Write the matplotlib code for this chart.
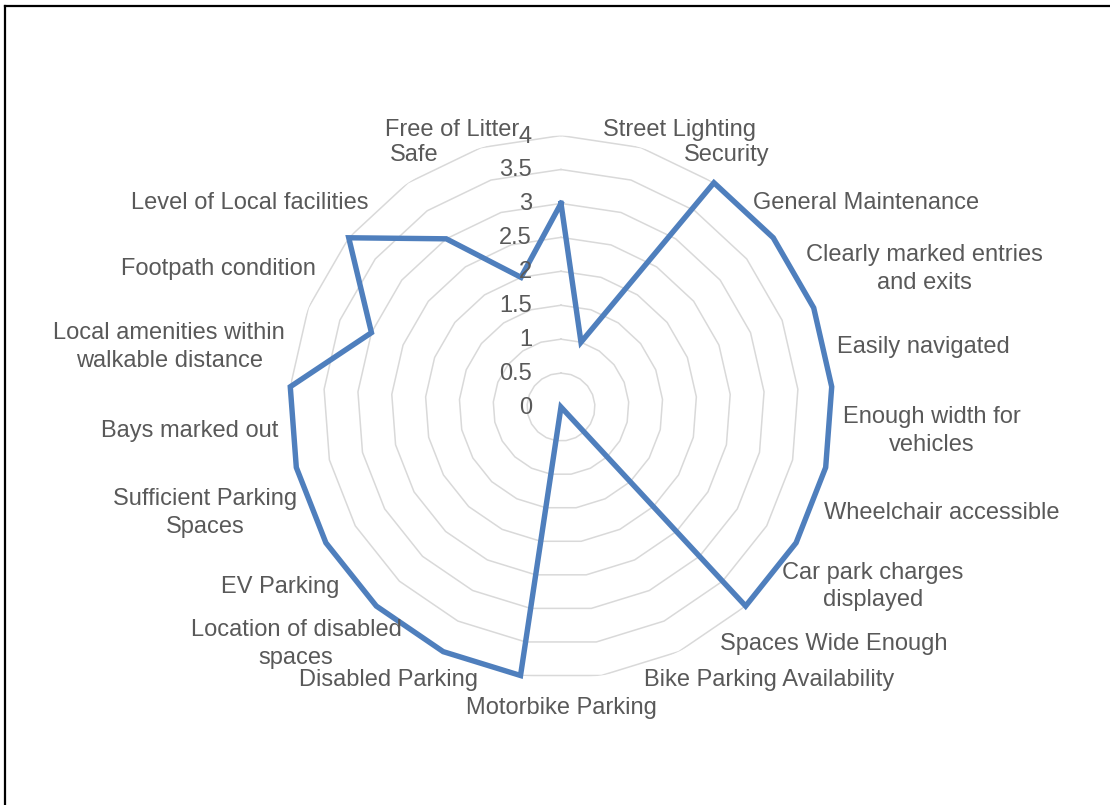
import numpy as np
import matplotlib
matplotlib.use("Agg")
import matplotlib.pyplot as plt
from matplotlib.lines import Line2D
from matplotlib.transforms import offset_copy

categories = [
    "Street Lighting", "Security", "General Maintenance",
    "Clearly marked entries\nand exits", "Easily navigated",
    "Enough width for\nvehicles", "Wheelchair accessible",
    "Car park charges\ndisplayed", "Spaces Wide Enough",
    "Bike Parking Availability", "Motorbike Parking", "Disabled Parking",
    "Location of disabled\nspaces", "EV Parking",
    "Sufficient Parking\nSpaces", "Bays marked out",
    "Local amenities within\nwalkable distance", "Footpath condition",
    "Level of Local facilities", "Safe", "Free of Litter",
]
scores = [3, 1, 4, 4, 4, 4, 4, 4, 4, 0, 0, 4, 4, 4, 4, 4, 4, 3, 4, 3, 2]
tick_values = [0, 0.5, 1, 1.5, 2, 2.5, 3, 3.5, 4]
tick_labels = ["0", "0.5", "1", "1.5", "2", "2.5", "3", "3.5", "4"]

plt.rcParams['font.family'] = ['Liberation Sans', 'DejaVu Sans']
text_color = '#595959'
line_color = '#4F7FBD'

fig = plt.figure(figsize=(11.1, 8.05), dpi=100)
ax = fig.add_axes([0.2608, 0.1571, 0.4892, 0.6745], projection='polar')
ax.set_theta_zero_location('N')
ax.set_theta_direction(-1)
ax.set_ylim(0, 4)
ax.set_axis_off()

n = len(categories)
angles = np.linspace(0, 2 * np.pi, n, endpoint=False)
closed = np.append(angles, angles[0])

# polygon gridlines like excel
for v in tick_values[1:]:
    ax.plot(closed, [v] * (n + 1), color='#D9D9D9', lw=1.1, zorder=1)

ax.plot(closed, scores + scores[:1], color=line_color, lw=3.9,
        solid_joinstyle='miter', clip_on=False, zorder=3)

# value axis labels
tick_tr = offset_copy(ax.transData, fig=fig, x=-29, y=-1, units='dots')
for v, s in zip(tick_values, tick_labels):
    ax.text(0, v, s, transform=tick_tr, ha='right', va='center',
            fontsize=17, color=text_color)

# category labels sit half a step clockwise of their spoke
step = 2 * np.pi / n
lab_tr = offset_copy(ax.transData, fig=fig, x=0, y=-3, units='dots')
for a, lab in zip(angles, categories):
    t = a + step / 2
    s = np.sin(t)
    r = 4.17
    if abs(s) < 0.05:
        ha, va = 'center', ('top' if np.cos(t) < 0 else 'bottom')
        r = 4.23
    else:
        ha, va = ('left' if s > 0 else 'right'), 'center'
    ax.text(t, r, lab, transform=lab_tr, ha=ha, va=va,
            multialignment='center', fontsize=17, color=text_color,
            linespacing=1.35)

# frame edges of the pasted picture
fig.add_artist(Line2D([5 / 1110, 1], [1 - 6.5 / 805, 1 - 6.5 / 805],
                      color='black', lw=1.6))
fig.add_artist(Line2D([5 / 1110, 5 / 1110], [0, 1 - 6.5 / 805],
                      color='black', lw=1.6))

fig.savefig('out.png', dpi=100)
